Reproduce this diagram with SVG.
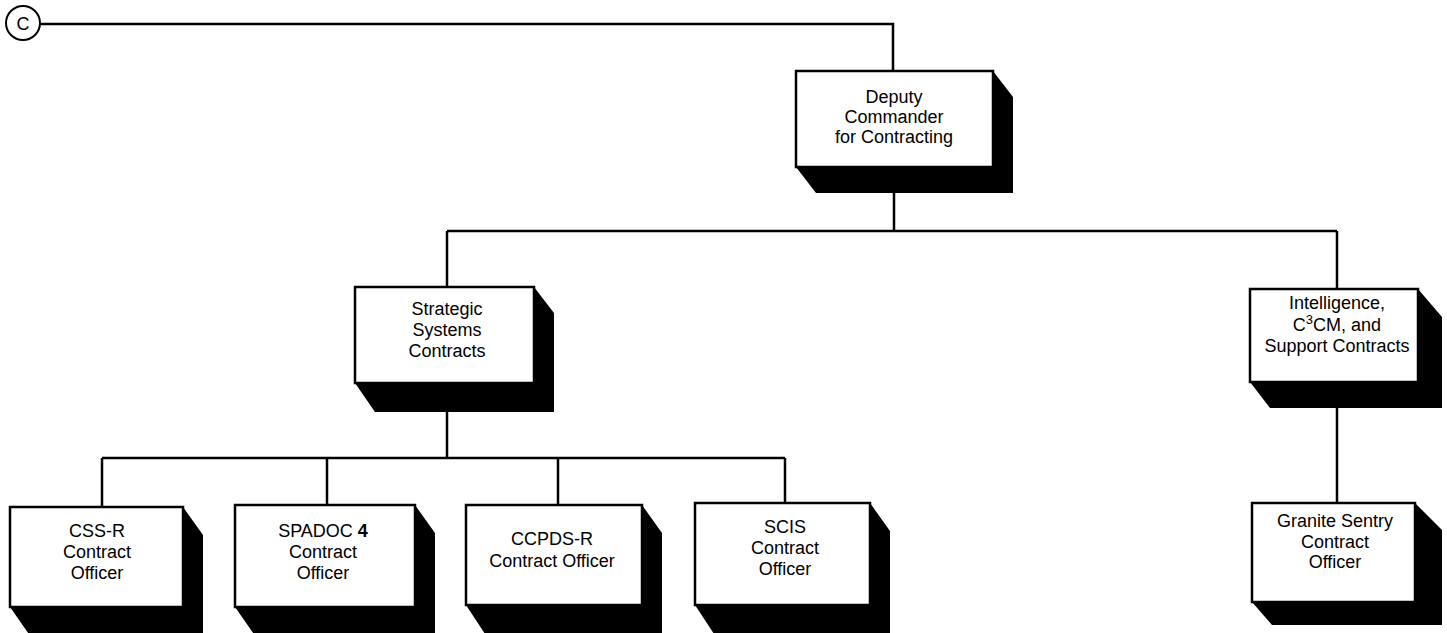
<svg xmlns="http://www.w3.org/2000/svg" width="1447" height="633" viewBox="0 0 1447 633">
<style>
.bg{fill:#fff}
.shadow{fill:#000}
.box{fill:#fff;stroke:#000;stroke-width:2.5}
.conn{fill:none;stroke:#000;stroke-width:2.5}
.lbl{font-family:"Liberation Sans",Arial,Helvetica,sans-serif;font-size:18px;fill:#000;text-anchor:middle}
</style>
<rect class="bg" x="0" y="0" width="1447" height="633"/>
<g id="connectors">
<path class="conn" d="M40 24 H893 V71"/>
<path class="conn" d="M894 192 V231"/>
<path class="conn" d="M447 231 H1337"/>
<path class="conn" d="M447 231 V287"/>
<path class="conn" d="M1337 231 V289"/>
<path class="conn" d="M447 412 V458"/>
<path class="conn" d="M102 458 H785"/>
<path class="conn" d="M102 458 V507"/>
<path class="conn" d="M327 458 V505"/>
<path class="conn" d="M558 458 V505"/>
<path class="conn" d="M785 458 V503"/>
<path class="conn" d="M1337 408 V503"/>
</g>
<g id="node-c">
<circle cx="23" cy="23" r="17" fill="#fff" stroke="#000" stroke-width="2"/>
<text class="lbl" x="23" y="30">C</text>
</g>
<g id="node-deputy">
<polygon class="shadow" points="993,71 1013,97 1013,193 816,193 796,167 993,167"/>
<rect class="box" x="796" y="71" width="197" height="96"/>
<text class="lbl" x="894" y="103">Deputy</text>
<text class="lbl" x="894" y="123">Commander</text>
<text class="lbl" x="894" y="143">for Contracting</text>
</g>
<g id="node-strategic">
<polygon class="shadow" points="534,287 554,313 554,412 375,412 355,383 534,383"/>
<rect class="box" x="355" y="287" width="179" height="96"/>
<text class="lbl" x="447" y="315">Strategic</text>
<text class="lbl" x="447" y="336">Systems</text>
<text class="lbl" x="447" y="357">Contracts</text>
</g>
<g id="node-intel">
<polygon class="shadow" points="1418,289 1442,317 1442,408 1270,408 1250,382 1418,382"/>
<rect class="box" x="1250" y="289" width="168" height="93"/>
<text class="lbl" x="1337" y="309">Intelligence,</text>
<text class="lbl" x="1337" y="331">C<tspan font-size="13" dy="-7">3</tspan><tspan dy="7">CM, and</tspan></text>
<text class="lbl" x="1337" y="352">Support Contracts</text>
</g>
<g id="node-granite">
<polygon class="shadow" points="1415,503 1442,530 1442,625 1272,625 1252,602 1415,602"/>
<rect class="box" x="1252" y="503" width="163" height="99"/>
<text class="lbl" x="1335" y="527">Granite Sentry</text>
<text class="lbl" x="1335" y="548">Contract</text>
<text class="lbl" x="1335" y="568">Officer</text>
</g>
<g id="node-cssr">
<polygon class="shadow" points="183,507 203,535 203,640 33,640 10,607 183,607"/>
<rect class="box" x="10" y="507" width="173" height="100"/>
<text class="lbl" x="97" y="537">CSS-R</text>
<text class="lbl" x="97" y="558">Contract</text>
<text class="lbl" x="97" y="579">Officer</text>
</g>
<g id="node-spadoc">
<polygon class="shadow" points="415,505 435,533 435,640 258,640 235,607 415,607"/>
<rect class="box" x="235" y="505" width="180" height="102"/>
<text class="lbl" x="323" y="537">SPADOC <tspan font-weight="bold">4</tspan></text>
<text class="lbl" x="323" y="558">Contract</text>
<text class="lbl" x="323" y="579">Officer</text>
</g>
<g id="node-ccpds">
<polygon class="shadow" points="642,505 662,533 662,640 489,640 466,605 642,605"/>
<rect class="box" x="466" y="505" width="176" height="100"/>
<text class="lbl" x="552" y="545">CCPDS-R</text>
<text class="lbl" x="552" y="567">Contract Officer</text>
</g>
<g id="node-scis">
<polygon class="shadow" points="870,503 890,531 890,640 718,640 695,605 870,605"/>
<rect class="box" x="695" y="503" width="175" height="102"/>
<text class="lbl" x="785" y="533">SCIS</text>
<text class="lbl" x="785" y="554">Contract</text>
<text class="lbl" x="785" y="575">Officer</text>
</g>
</svg>
